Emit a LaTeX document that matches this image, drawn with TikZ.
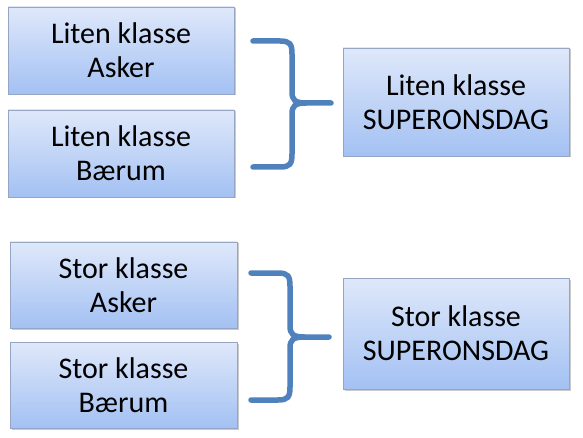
\documentclass[tikz,border=0pt]{standalone}
\usepackage{fontspec}
\setmainfont{Carlito}
\usetikzlibrary{shadows}
\definecolor{boxtop}{RGB}{223,232,250}
\definecolor{boxbottom}{RGB}{163,193,243}
\definecolor{boxline}{RGB}{150,165,195}
\definecolor{bracecol}{RGB}{79,129,189}
\tikzset{
    classbox/.style={draw=boxline, line width=0.8pt, top color=boxtop, bottom color=boxbottom,
        align=center, inner sep=0pt, minimum width=226pt, minimum height=87pt,
        font=\fontsize{30}{34}\selectfont,
        drop shadow={shadow xshift=1.5pt, shadow yshift=-1.5pt, opacity=0.35, fill=black!60}},
    bracepath/.style={draw=bracecol, line width=5.5pt, line cap=round}
}
\begin{document}
\begin{tikzpicture}[x=1pt, y=-1pt]
        \useasboundingbox (0, 0) rectangle (583, 438);

        % Small classes
        \node[classbox] (litenAsker) at (121, 50.5) {Liten klasse\\Asker};
        \node[classbox] (litenBaerum) at (121, 153.5) {Liten klasse\\Bærum};
        \node[classbox, minimum height=108pt] (litenSuper) at (456, 102) {Liten klasse\\SUPERONSDAG};

        % Large classes
        \node[classbox, minimum width=227pt, minimum height=86pt] (storAsker) at (123.5, 285) {Stor klasse\\Asker};
        \node[classbox, minimum width=227pt, minimum height=86pt] (storBaerum) at (123.5, 385) {Stor klasse\\Bærum};
        \node[classbox, minimum height=111pt] (storSuper) at (456, 333.5) {Stor klasse\\SUPERONSDAG};

        % Braces
        \draw[bracepath] (253, 41) -- (280, 41) .. controls (290, 41) and (292, 44) .. (292, 54)
            -- (292, 92) .. controls (292, 100) and (295, 103) .. (306, 103) -- (331, 103);
        \draw[bracepath] (253, 167) -- (280, 167) .. controls (290, 167) and (292, 164) .. (292, 154)
            -- (292, 114) .. controls (292, 106) and (295, 103) .. (306, 103);

        \draw[bracepath] (251, 273) -- (278, 273) .. controls (288, 273) and (290, 276) .. (290, 286)
            -- (290, 326) .. controls (290, 334) and (293, 337) .. (304, 337) -- (329, 337);
        \draw[bracepath] (251, 400) -- (278, 400) .. controls (288, 400) and (290, 397) .. (290, 387)
            -- (290, 348) .. controls (290, 340) and (293, 337) .. (304, 337);
    \end{tikzpicture}
\end{document}
